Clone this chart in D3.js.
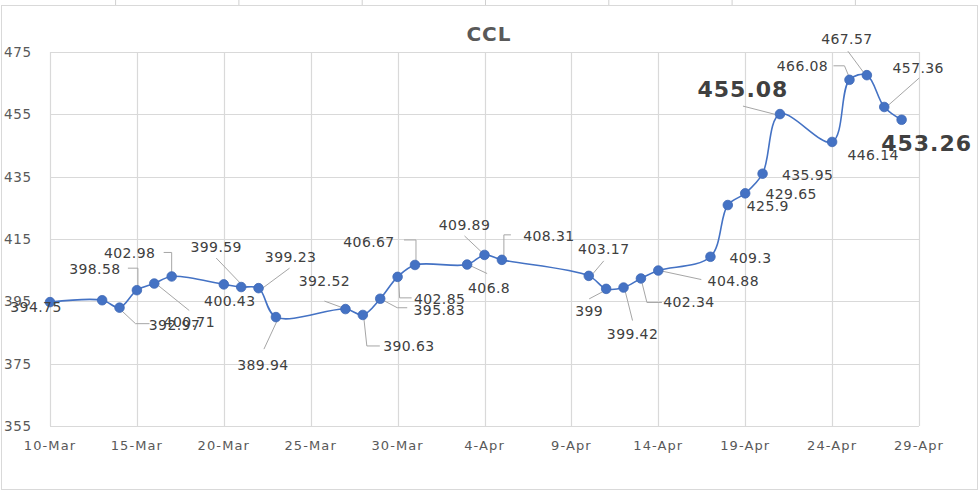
<!DOCTYPE html>
<html><head><meta charset="utf-8">
<script src="https://cdn.jsdelivr.net/npm/d3@7"></script>
<style>body{margin:0;background:#fff;overflow:hidden}</style>
</head><body><svg id="c" width="980" height="492"></svg>
<script>
// ---- data ----
const title = "CCL";
const dates = ["2023-03-10","2023-03-13","2023-03-14","2023-03-15","2023-03-16","2023-03-17",
  "2023-03-20","2023-03-21","2023-03-22","2023-03-23","2023-03-27","2023-03-28","2023-03-29",
  "2023-03-30","2023-03-31","2023-04-03","2023-04-04","2023-04-05","2023-04-10","2023-04-11",
  "2023-04-12","2023-04-13","2023-04-14","2023-04-17","2023-04-18","2023-04-19","2023-04-20",
  "2023-04-21","2023-04-24","2023-04-25","2023-04-26","2023-04-27","2023-04-28"];
const values = [394.75,395.35,392.97,398.58,400.71,402.98,400.43,399.59,399.23,389.94,392.52,
  390.63,395.83,402.85,406.67,406.8,409.89,408.31,403.17,399,399.42,402.34,404.88,409.3,425.9,
  429.65,435.95,455.08,446.14,466.08,467.57,457.36,453.26];
const pointLabels = ["394.75",null,"392.97","398.58","400.71","402.98","400.43","399.59","399.23",
  "389.94","392.52","390.63","395.83","402.85","406.67","406.8","409.89","408.31","403.17","399",
  "399.42","402.34","404.88","409.3","425.9","429.65","435.95","455.08","446.14","466.08","467.57",
  "457.36","453.26"];
const yTicks = [355,375,395,415,435,455,475];
const xTickDates = ["2023-03-10","2023-03-15","2023-03-20","2023-03-25","2023-03-30","2023-04-04",
  "2023-04-09","2023-04-14","2023-04-19","2023-04-24","2023-04-29"];
const emphasized = [27, 32];

// ---- label placement (offsets from the point: text centre, leader polyline) ----
const labelLayout = [
  [-14,5,null], null,
  [55,17,[[1,2],[16,16],[30,16]]],
  [-42,-21,[[1,-2],[1,-22],[-9,-22]]],
  [35,38,[[4,2],[35,27]]],
  [-42,-23,[[0,-3],[0,-24],[-8,-24]]],
  [6,17,null],
  [-25,-40,[[-1,-4],[-25,-29]]],
  [32,-31,[[4,0],[31,-20]]],
  [-13,48,[[1,4],[-12,32]]],
  [-21,-28,[[-2,-1],[-21,-8]]],
  [46,31,[[1,3],[4,31],[17,31]]],
  [59,11,[[2,1],[17,9],[27,9]]],
  [42,22,[[1,1],[2,21],[14,21]]],
  [-46,-23,[[1,-1],[1,-25],[-11,-25]]],
  [22,23,[[3,1],[20,9]]],
  [-20,-30,[[-2,-2],[-20,-19]]],
  [47,-24,[[2,-1],[2,-25],[9,-25]]],
  [15,-27,[[4,-2],[15,-15]]],
  [-17,22,[[2,0],[-17,10]]],
  [9,46,[[1,1],[9,33]]],
  [48,24,[[0,0],[6,24],[21,24]]],
  [75,10,[[1,0],[43,9]]],
  [40,1,null],[40,1,null],[46,1,null],[45,1,null],
  [-37,-25,[[-2,1],[-37,-8]]],
  [41,13,null],
  [-47,-14,[[0,-2],[-5,-14],[-16,-14]]],
  [-20,-36,[[-2,-1],[-19,-24]]],
  [34,-39,[[1,1],[35,-29]]],
  [25,24,null]
];

const parse = d3.utcParse("%Y-%m-%d");
const fmt = d3.utcFormat("%-d-%b");
const svg = d3.select("#c");
const W = 980, H = 492;
const plot = {left: 50, right: 919, top: 52, bottom: 426};
const BLUE = "#4472C4", GRID = "#D9D9D9", TXT = "#595959", LBL = "#404040";

svg.append("rect").attr("width", W).attr("height", H).attr("fill", "#fff");
// spreadsheet cell marks behind the chart
svg.append("g").selectAll("line").data(d3.range(115.6, 900, 123.3)).join("line")
  .attr("x1", d => d).attr("x2", d => d).attr("y1", 0).attr("y2", 5)
  .attr("stroke", "#D0D0D0");
// chart border
svg.append("rect").attr("x", 1.5).attr("y", 5.5).attr("width", 976).attr("height", 484)
  .attr("fill", "#fff").attr("stroke", GRID);

const x = d3.scaleUtc().domain([parse(xTickDates[0]), parse(xTickDates[xTickDates.length-1])])
  .range([plot.left, plot.right]);
const y = d3.scaleLinear().domain([355, 475]).range([plot.bottom, plot.top]);

// gridlines
const g = svg.append("g");
g.selectAll(".hg").data(yTicks).join("line")
  .attr("x1", plot.left).attr("x2", plot.right)
  .attr("y1", d => Math.round(y(d)) + 0.5).attr("y2", d => Math.round(y(d)) + 0.5)
  .attr("stroke", GRID).attr("stroke-width", 1.2);
g.selectAll(".vg").data(xTickDates).join("line")
  .attr("x1", d => Math.round(x(parse(d))) + 0.5).attr("x2", d => Math.round(x(parse(d))) + 0.5)
  .attr("y1", plot.top).attr("y2", plot.bottom)
  .attr("stroke", GRID).attr("stroke-width", 1.2);

// axis labels
svg.append("g").selectAll("text").data(yTicks).join("text")
  .attr("x", 4).attr("y", d => y(d)).attr("dominant-baseline", "central")
  .attr("font-family", "DejaVu Sans").attr("font-size", 13.5).attr("letter-spacing", 0.6)
  .attr("fill", TXT).text(d => d);
svg.append("g").selectAll("text").data(xTickDates).join("text")
  .attr("x", d => x(parse(d))).attr("y", 445).attr("text-anchor", "middle")
  .attr("dominant-baseline", "central")
  .attr("font-family", "DejaVu Sans").attr("font-size", 13).attr("letter-spacing", 1.1)
  .attr("fill", TXT).text(d => fmt(parse(d)));

// title
svg.append("text").attr("x", 489).attr("y", 34).attr("text-anchor", "middle")
  .attr("dominant-baseline", "central").attr("font-family", "DejaVu Sans")
  .attr("font-weight", "bold").attr("font-size", 20).attr("letter-spacing", 1)
  .attr("fill", TXT).text(title);

const pts = dates.map((d, i) => ({x: x(parse(d)), y: y(values[i]), i}));

// leader lines
const lg = svg.append("g");
pts.forEach(p => {
  const L = labelLayout[p.i];
  if (!L || !L[2] || pointLabels[p.i] == null) return;
  lg.append("polyline")
    .attr("points", L[2].map(o => [p.x + o[0], p.y + o[1]].join(",")).join(" "))
    .attr("fill", "none").attr("stroke", "#A6A6A6").attr("stroke-width", 1);
});

// line
svg.append("path").datum(pts)
  .attr("d", d3.line().x(d => d.x).y(d => d.y).curve(d3.curveCatmullRom.alpha(0.5)))
  .attr("fill", "none").attr("stroke", BLUE).attr("stroke-width", 1.6);

// markers
svg.append("g").selectAll("circle").data(pts).join("circle")
  .attr("cx", d => d.x).attr("cy", d => d.y).attr("r", 4.8)
  .attr("fill", BLUE).attr("stroke", "#3F68B5").attr("stroke-width", 0.8);

// data labels
svg.append("g").selectAll("text").data(pts.filter(p => pointLabels[p.i] != null && labelLayout[p.i])).join("text")
  .attr("x", p => p.x + labelLayout[p.i][0]).attr("y", p => p.y + labelLayout[p.i][1])
  .attr("text-anchor", "middle").attr("dominant-baseline", "central")
  .attr("font-family", "DejaVu Sans")
  .attr("font-weight", p => emphasized.includes(p.i) ? "bold" : "normal")
  .attr("font-size", p => emphasized.includes(p.i) ? 22 : 14)
  .attr("letter-spacing", p => emphasized.includes(p.i) ? 1 : 0.4)
  .attr("fill", LBL).text(p => pointLabels[p.i]);
</script>
</body></html>
